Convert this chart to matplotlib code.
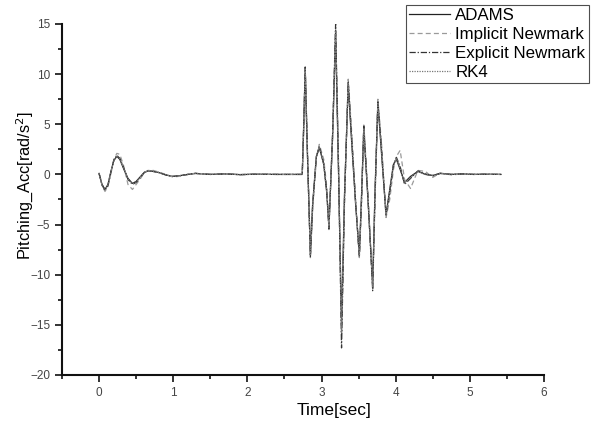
import numpy as np
import matplotlib.pyplot as plt
from matplotlib.ticker import MultipleLocator

plt.rcParams['font.family'] = ['Liberation Sans', 'DejaVu Sans']

# tiempos [s]
t = [0.0, 0.04, 0.08, 0.12, 0.16, 0.2, 0.24, 0.28, 0.33, 0.39, 0.45, 0.5,
     0.56, 0.61, 0.66, 0.73, 0.8, 0.9, 0.99, 1.07, 1.15, 1.3, 1.5, 1.7,
     1.9, 2.1, 2.4, 2.74, 2.76, 2.78, 2.81, 2.85, 2.88, 2.93, 2.97, 3.03,
     3.07, 3.1, 3.15, 3.19, 3.23, 3.27, 3.31, 3.36, 3.4, 3.46, 3.51, 3.54,
     3.57, 3.63, 3.69, 3.72, 3.76, 3.81, 3.87, 3.92, 3.97, 4.01, 4.06, 4.12,
     4.2, 4.3, 4.4, 4.5, 4.6, 4.75, 4.9, 5.05, 5.2, 5.42]

adams = [0.1, -1.0, -1.5, -1.0, 0.3, 1.4, 1.8, 1.5, 0.6, -0.4, -0.9, -0.7,
         -0.2, 0.2, 0.35, 0.3, 0.2, -0.05, -0.2, -0.15, -0.05, 0.1, 0.0, 0.05,
         -0.02, 0.02, 0.0, 0.0, 5.0, 10.5, 2.0, -8.0, -3.0, 1.8, 2.7, 1.0,
         -1.8, -5.2, 4.0, 14.0, 0.0, -15.0, -2.0, 9.0, 4.0, -3.0, -8.0, -2.0,
         4.5, -3.0, -11.0, -2.0, 7.2, 2.0, -4.0, -1.5, 1.0, 1.5, 0.5, -0.8,
         -0.2, 0.3, 0.0, -0.1, 0.1, 0.0, 0.05, 0.0, 0.02, 0.0]

implicit = [0.1, -1.1, -1.7, -1.2, 0.1, 1.5, 2.1, 2.0, 0.9, -1.0, -1.5, -1.0,
            -0.4, 0.2, 0.4, 0.4, 0.25, 0.0, -0.25, -0.2, -0.05, 0.12, 0.0, 0.06,
            -0.03, 0.02, 0.0, 0.0, 4.5, 10.8, 2.5, -8.3, -3.5, 1.5, 3.0, 1.5,
            -1.2, -5.5, 3.5, 14.6, 1.0, -16.0, -3.0, 9.5, 5.0, -2.5, -8.3, -3.0,
            5.1, -2.5, -11.4, -3.0, 7.5, 3.0, -4.3, -2.5, 0.5, 1.8, 2.4, -0.5,
            -1.4, 0.4, 0.3, -0.3, 0.15, -0.05, 0.05, 0.0, 0.02, 0.0]

explicit = [0.1, -1.05, -1.6, -1.1, 0.2, 1.45, 1.9, 1.6, 0.7, -0.5, -1.0, -0.8,
            -0.3, 0.2, 0.35, 0.3, 0.2, -0.05, -0.2, -0.15, -0.05, 0.1, 0.0, 0.05,
            -0.02, 0.02, 0.0, 0.0, 4.8, 10.7, 2.2, -8.2, -3.2, 1.7, 2.8, 1.1,
            -1.6, -5.4, 4.2, 15.0, 0.5, -17.3, -2.5, 9.3, 4.5, -2.8, -8.2, -2.5,
            4.8, -2.8, -11.6, -2.5, 7.3, 2.5, -4.1, -1.8, 0.9, 1.7, 0.8, -1.0,
            -0.4, 0.35, 0.05, -0.15, 0.1, 0.0, 0.05, 0.0, 0.02, 0.0]

rk4 = [0.1, -1.0, -1.55, -1.05, 0.25, 1.4, 1.85, 1.55, 0.65, -0.45, -0.95, -0.75,
       -0.25, 0.2, 0.35, 0.3, 0.2, -0.05, -0.2, -0.15, -0.05, 0.1, 0.0, 0.05,
       -0.02, 0.02, 0.0, 0.0, 4.9, 10.6, 2.1, -8.1, -3.1, 1.8, 2.75, 1.0,
       -1.7, -5.3, 4.1, 14.3, 0.2, -15.8, -2.2, 9.1, 4.2, -2.9, -8.1, -2.2,
       4.6, -2.9, -11.2, -2.2, 7.3, 2.2, -4.1, -1.6, 1.0, 1.6, 0.6, -0.9,
       -0.3, 0.3, 0.0, -0.1, 0.1, 0.0, 0.05, 0.0, 0.02, 0.0]

fig = plt.figure(figsize=(5.92, 4.23), dpi=100)
ax = fig.add_axes([0.1047, 0.1135, 0.8142, 0.8298])

ax.plot(t, adams, color='#222222', lw=0.9, ls='-', label='ADAMS')
ax.plot(t, implicit, color='#9a9a9a', lw=0.9, ls=(0, (4, 2.5)), label='Implicit Newmark')
ax.plot(t, explicit, color='#333333', lw=0.9, ls=(0, (5, 1.5, 1, 1.5)), label='Explicit Newmark')
ax.plot(t, rk4, color='#777777', lw=0.9, ls=(0, (1, 1)), label='RK4')

ax.set_xlim(-0.5, 6)
ax.set_ylim(-20, 15)
ax.xaxis.set_major_locator(MultipleLocator(1))
ax.xaxis.set_minor_locator(MultipleLocator(0.5))
ax.yaxis.set_major_locator(MultipleLocator(5))
ax.yaxis.set_minor_locator(MultipleLocator(2.5))

for s in ['top', 'right']:
    ax.spines[s].set_visible(False)
for s in ['left', 'bottom']:
    ax.spines[s].set_linewidth(1.5)
    ax.spines[s].set_color('#111111')

ax.tick_params(which='major', direction='out', length=5, width=1.2,
               labelsize=8.5, labelcolor='#444444', color='#111111')
ax.tick_params(which='minor', direction='out', length=3, width=1.2, color='#111111')

ax.set_xlabel('Time[sec]', fontsize=12.5, x=0.564, labelpad=3)
ax.set_ylabel('Pitching_Acc[rad/s$^2$]', fontsize=11.8)
ax.yaxis.set_label_coords(-0.057, 0.54)

leg = fig.legend(loc='upper left', bbox_to_anchor=(406/592, 1 - 5/423),
                 fontsize=12.2, frameon=True, fancybox=False, handlelength=2.4,
                 handletextpad=0.3, borderpad=0.2, labelspacing=0.22,
                 borderaxespad=0)
leg.get_frame().set_edgecolor('#222222')
leg.get_frame().set_linewidth(0.8)

plt.savefig('out.png', dpi=100)
